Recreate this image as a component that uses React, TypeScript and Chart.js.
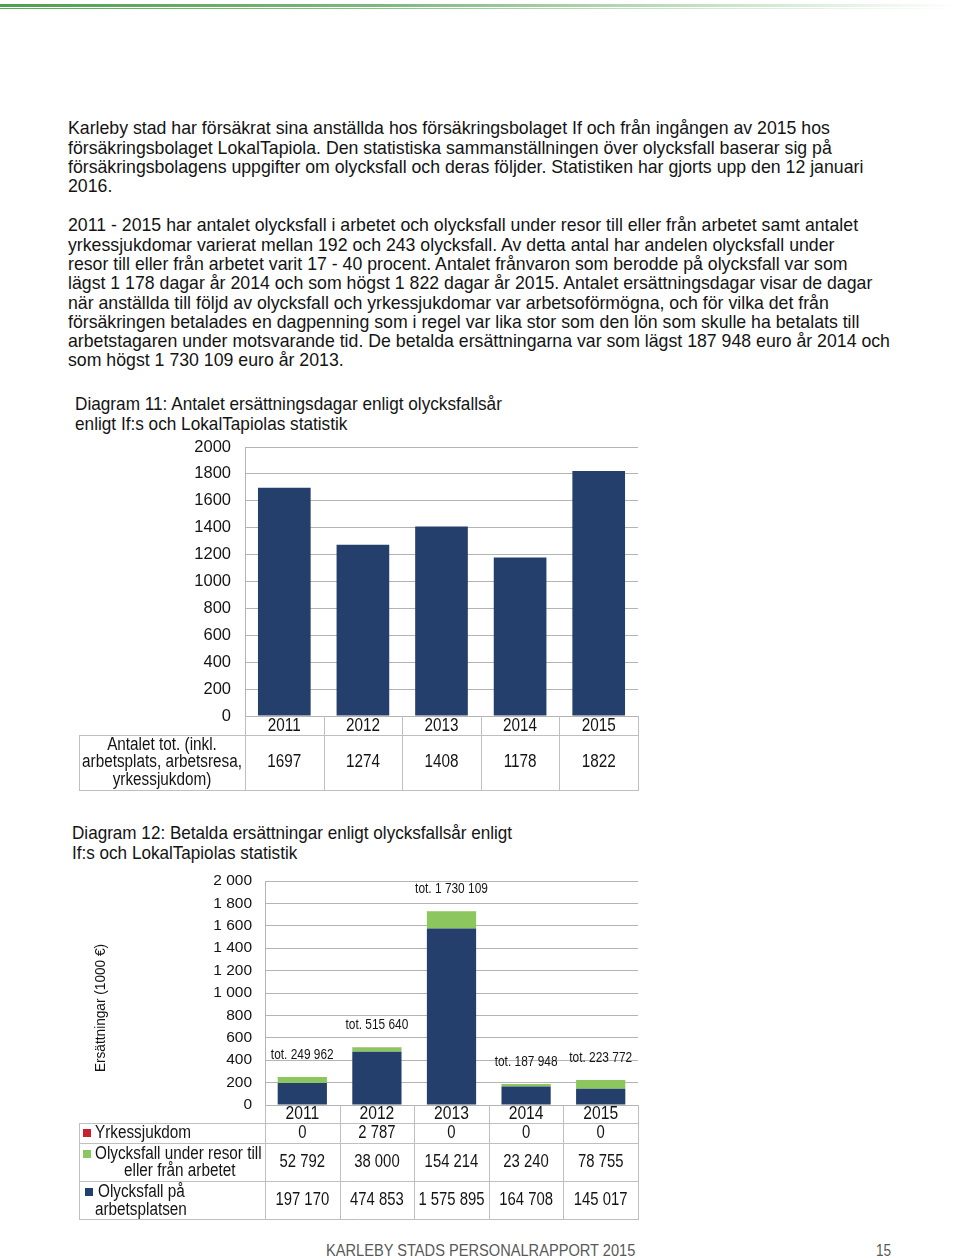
import React, { useEffect, useRef } from "react";
import { Chart, registerables } from "chart.js";
Chart.register(...registerables);

const FONT = '"Liberation Sans", Arial, sans-serif';

// ---- data ----
const years = ["2011", "2012", "2013", "2014", "2015"];
const antalTot = [1697, 1274, 1408, 1178, 1822];
const yrkessjukdom = [0, 2787, 0, 0, 0];
const resor = [52792, 38000, 154214, 23240, 78755];
const arbetsplats = [197170, 474853, 1575895, 164708, 145017];

const NAVY = "#243f6b";
const GREEN = "#8cc65e";
const RED = "#c8202f";
const GRID = "#b4b4b4";
const BORDER = "#bfbfbf";
const TEXT = "#141414";

const fmt = (n: number) => String(n).replace(/\B(?=(\d{3})+(?!\d))/g, " ");

const p1 = [
  "Karleby stad har försäkrat sina anställda hos försäkringsbolaget If och från ingången av 2015 hos",
  "försäkringsbolaget LokalTapiola. Den statistiska sammanställningen över olycksfall baserar sig på",
  "försäkringsbolagens uppgifter om olycksfall och deras följder. Statistiken har gjorts upp den 12 januari",
  "2016.",
];
const p2 = [
  "2011 - 2015 har antalet olycksfall i arbetet och olycksfall under resor till eller från arbetet samt antalet",
  "yrkessjukdomar varierat mellan 192 och 243 olycksfall. Av detta antal har andelen olycksfall under",
  "resor till eller från arbetet varit 17 - 40 procent. Antalet frånvaron som berodde på olycksfall var som",
  "lägst 1 178 dagar år 2014 och som högst 1 822 dagar år 2015. Antalet ersättningsdagar visar de dagar",
  "när anställda till följd av olycksfall och yrkessjukdomar var arbetsoförmögna, och för vilka det från",
  "försäkringen betalades en dagpenning som i regel var lika stor som den lön som skulle ha betalats till",
  "arbetstagaren under motsvarande tid. De betalda ersättningarna var som lägst 187 948 euro år 2014 och",
  "som högst 1 730 109 euro år 2013.",
];
const title1 = ["Diagram 11: Antalet ersättningsdagar enligt olycksfallsår", "enligt If:s och LokalTapiolas statistik"];
const title2 = ["Diagram 12: Betalda ersättningar enligt olycksfallsår enligt", "If:s och LokalTapiolas statistik"];

const LH = 19.3;

function Line({ x, y, text, size = 19, sx = 0.932, color = TEXT }: any) {
  return (
    <div
      style={{
        position: "absolute",
        left: x,
        top: y - LH / 2,
        height: LH,
        lineHeight: LH + "px",
        fontSize: size,
        whiteSpace: "pre",
        color,
        transform: `scaleX(${sx})`,
        transformOrigin: "0 50%",
      }}
    >
      {text}
    </div>
  );
}

function txt(ctx: any, t: string, x: number, y: number, size: number, sx: number, align: string) {
  ctx.save();
  ctx.translate(x, y);
  ctx.scale(sx, 1);
  ctx.font = `${size}px ${FONT}`;
  ctx.textAlign = align;
  ctx.textBaseline = "middle";
  ctx.fillText(t, 0, 0);
  ctx.restore();
}

function Chart1() {
  const ref = useRef<HTMLCanvasElement>(null);
  useEffect(() => {
    const tablePlugin = {
      id: "table1",
      afterDraw(chart: any) {
        const { ctx, chartArea } = chart;
        const { left, right, bottom } = chartArea;
        const n = years.length;
        const w = (right - left) / n;
        const r1 = bottom + 19;
        const r2 = bottom + 74;
        const headL = 79;
        ctx.save();
        ctx.strokeStyle = BORDER;
        ctx.lineWidth = 1;
        ctx.beginPath();
        for (let i = 0; i <= n; i++) {
          const x = Math.round(left + i * w) + 0.5;
          ctx.moveTo(x, bottom);
          ctx.lineTo(x, r2 + 1);
        }
        ctx.moveTo(headL + 0.5, r1);
        ctx.lineTo(headL + 0.5, r2 + 1);
        ctx.moveTo(headL, r1 + 0.5);
        ctx.lineTo(right, r1 + 0.5);
        ctx.moveTo(headL, r2 + 0.5);
        ctx.lineTo(right, r2 + 0.5);
        ctx.stroke();
        ctx.fillStyle = TEXT;
        const xs = chart.scales.x;
        years.forEach((yr, i) => {
          const cx = xs.getPixelForValue(i);
          txt(ctx, yr, cx, bottom + 10, 18, 0.85, "center");
          txt(ctx, String(antalTot[i]), cx, (r1 + r2) / 2, 18, 0.85, "center");
        });
        const hc = (headL + left) / 2;
        ["Antalet tot. (inkl.", "arbetsplats, arbetsresa,", "yrkessjukdom)"].forEach((t, k) =>
          txt(ctx, t, hc, r1 + 10 + k * 17.5, 18, 0.85, "center")
        );
        ctx.restore();
      },
    };
    const chart = new Chart(ref.current as HTMLCanvasElement, {
      type: "bar",
      data: {
        labels: years,
        datasets: [
          { data: antalTot, backgroundColor: NAVY, barPercentage: 0.67, categoryPercentage: 1 },
        ],
      },
      options: {
        responsive: false,
        animation: false,
        layout: { padding: { top: 17, right: 22, bottom: 84, left: 0 } },
        plugins: { legend: { display: false }, tooltip: { enabled: false } },
        scales: {
          x: { display: false },
          y: {
            min: 0,
            max: 2000,
            ticks: {
              stepSize: 200,
              padding: 0,
              autoSkip: false,
              color: TEXT,
              font: { family: FONT, size: 16.5 },
              callback: (v: any) => String(v),
            },
            grid: { color: GRID, drawTicks: true, tickLength: 14, tickColor: "rgba(0,0,0,0)" },
            border: { color: GRID },
            afterFit: (s: any) => {
              s.width = 245;
            },
          },
        },
      },
      plugins: [tablePlugin],
    } as any);
    return () => chart.destroy();
  }, []);
  return (
    <canvas ref={ref} width={660} height={370} style={{ position: "absolute", left: 0, top: 430 }} />
  );
}

function Chart2() {
  const ref = useRef<HTMLCanvasElement>(null);
  useEffect(() => {
    const TOP = 860;
    const tablePlugin = {
      id: "table2",
      afterDraw(chart: any) {
        const { ctx, chartArea } = chart;
        const { left, right, bottom } = chartArea;
        const n = years.length;
        const w = (right - left) / n;
        const r1 = bottom + 18;
        const r2 = bottom + 38;
        const r3 = bottom + 76;
        const r4 = bottom + 114;
        const headL = 79;
        const xs = chart.scales.x;
        const ys = chart.scales.y;
        ctx.save();
        ctx.strokeStyle = BORDER;
        ctx.lineWidth = 1;
        ctx.beginPath();
        for (let i = 0; i <= n; i++) {
          const x = Math.round(left + i * w) + 0.5;
          ctx.moveTo(x, bottom);
          ctx.lineTo(x, r4 + 1);
        }
        ctx.moveTo(headL + 0.5, r1);
        ctx.lineTo(headL + 0.5, r4 + 1);
        [r1, r2, r3, r4].forEach((r) => {
          ctx.moveTo(headL, r + 0.5);
          ctx.lineTo(right, r + 0.5);
        });
        ctx.stroke();

        ctx.fillStyle = TEXT;
        years.forEach((yr, i) => {
          const cx = xs.getPixelForValue(i);
          txt(ctx, yr, cx, bottom + 9, 18, 0.87, "center");
          txt(ctx, fmt(yrkessjukdom[i]), cx, (r1 + r2) / 2, 17.5, 0.85, "center");
          txt(ctx, fmt(resor[i]), cx, (r2 + r3) / 2, 17.5, 0.85, "center");
          txt(ctx, fmt(arbetsplats[i]), cx, (r3 + r4) / 2, 17.5, 0.85, "center");
        });

        // totals above bars
        years.forEach((yr, i) => {
          const tot = yrkessjukdom[i] + resor[i] + arbetsplats[i];
          const cx = xs.getPixelForValue(i);
          txt(ctx, "tot. " + fmt(tot), cx, ys.getPixelForValue(tot / 1000) - 22, 14, 0.85, "center");
        });

        // row headers
        const marker = (x: number, y: number, c: string) => {
          ctx.fillStyle = c;
          ctx.fillRect(x, y - 4, 8, 8);
          ctx.fillStyle = TEXT;
        };
        marker(83, (r1 + r2) / 2, RED);
        txt(ctx, "Yrkessjukdom", 95, (r1 + r2) / 2, 18, 0.85, "left");
        marker(83, r2 + 11, GREEN);
        txt(ctx, "Olycksfall under resor till", 95, r2 + 11, 18, 0.85, "left");
        txt(ctx, "eller från arbetet", 124, r2 + 28, 18, 0.85, "left");
        marker(85, r3 + 11, NAVY);
        txt(ctx, "Olycksfall på", 98, r3 + 11, 18, 0.85, "left");
        txt(ctx, "arbetsplatsen", 95, r3 + 29, 18, 0.85, "left");

        // y axis title
        ctx.save();
        ctx.translate(101, 1008 - TOP);
        ctx.rotate(-Math.PI / 2);
        txt(ctx, "Ersättningar (1000 €)", 0, 0, 15, 0.91, "center");
        ctx.restore();
        ctx.restore();
      },
    };
    const chart = new Chart(ref.current as HTMLCanvasElement, {
      type: "bar",
      data: {
        labels: years,
        datasets: [
          { label: "Olycksfall på arbetsplatsen", data: arbetsplats.map((v) => v / 1000), backgroundColor: NAVY, barPercentage: 0.66, categoryPercentage: 1 },
          { label: "Olycksfall under resor till eller från arbetet", data: resor.map((v) => v / 1000), backgroundColor: GREEN, barPercentage: 0.66, categoryPercentage: 1 },
          { label: "Yrkessjukdom", data: yrkessjukdom.map((v) => v / 1000), backgroundColor: RED, barPercentage: 0.66, categoryPercentage: 1 },
        ],
      },
      options: {
        responsive: false,
        animation: false,
        layout: { padding: { top: 21, right: 22, bottom: 125, left: 0 } },
        plugins: { legend: { display: false }, tooltip: { enabled: false } },
        scales: {
          x: { display: false, stacked: true },
          y: {
            stacked: true,
            min: 0,
            max: 2000,
            ticks: {
              stepSize: 200,
              padding: 0,
              autoSkip: false,
              color: TEXT,
              font: { family: FONT, size: 15.5 },
              callback: (v: any) => fmt(Number(v)),
            },
            grid: { color: GRID, drawTicks: true, tickLength: 13, tickColor: "rgba(0,0,0,0)" },
            border: { color: GRID },
            afterFit: (s: any) => {
              s.width = 265;
            },
          },
        },
      },
      plugins: [tablePlugin],
    } as any);
    return () => chart.destroy();
  }, []);
  return (
    <canvas ref={ref} width={660} height={370} style={{ position: "absolute", left: 0, top: 860 }} />
  );
}

export default function App() {
  return (
    <div
      style={{
        position: "absolute",
        left: 0,
        top: 0,
        width: 960,
        height: 1258,
        overflow: "hidden",
        background: "#fff",
        fontFamily: FONT,
        color: TEXT,
      }}
    >
      <div
        style={{
          position: "absolute",
          left: 0,
          top: 4,
          width: 960,
          height: 3,
          background: "linear-gradient(to right, #4f9f4f 0%, #7fb87f 40%, #c9e2c9 75%, rgba(255,255,255,0) 100%)",
        }}
      />
      <div
        style={{
          position: "absolute",
          left: 0,
          top: 8,
          width: 960,
          height: 1,
          background: "linear-gradient(to right, #5aa85a 0%, #8cc08c 40%, #d2e8d2 75%, rgba(255,255,255,0) 100%)",
        }}
      />
      {p1.map((t, k) => (
        <Line key={"a" + k} x={68} y={128 + k * LH} text={t} />
      ))}
      {p2.map((t, k) => (
        <Line key={"b" + k} x={68} y={225 + k * LH} text={t} />
      ))}
      {title1.map((t, k) => (
        <Line key={"c" + k} x={75} y={404 + k * LH} text={t} sx={0.905} />
      ))}
      <Chart1 />
      {title2.map((t, k) => (
        <Line key={"d" + k} x={72} y={833 + k * LH} text={t} sx={0.9} />
      ))}
      <Chart2 />
      <Line x={326} y={1251} text="KARLEBY STADS PERSONALRAPPORT 2015" size={17} sx={0.86} color="#595959" />
      <Line x={876} y={1251} text="15" size={17} sx={0.8} color="#595959" />
    </div>
  );
}
